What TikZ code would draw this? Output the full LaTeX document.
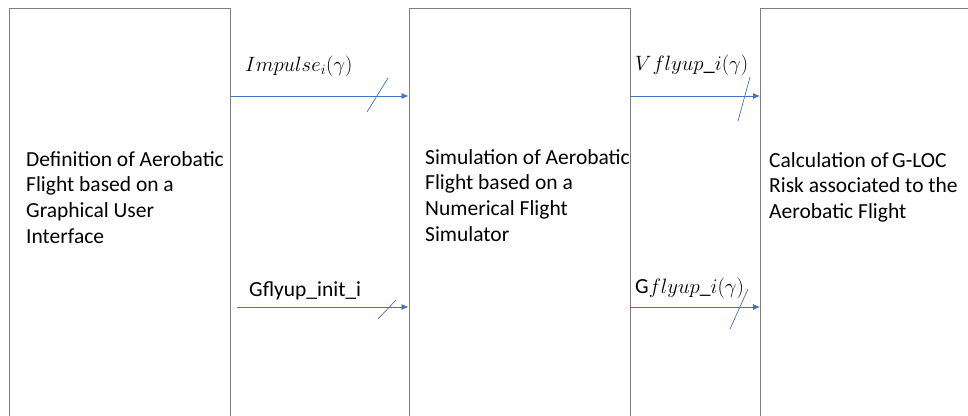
\documentclass[tikz,border=0pt]{standalone}
\usepackage{fontspec}
\setmainfont{Carlito}
\usetikzlibrary{arrows.meta}
\definecolor{arrblue}{HTML}{4472C4}
\definecolor{boxgray}{HTML}{7F7F7F}
\tikzset{
  blockbox/.style={draw=boxgray, line width=1pt, fill=white, rectangle, inner sep=0pt},
  boxtext/.style={anchor=north west, inner sep=0pt, align=left,
    font=\fontsize{21.5}{25.7}\selectfont},
  sigarrow/.style={draw=arrblue, line width=0.8pt, -{Latex[length=7pt,width=6pt]}},
  busmark/.style={draw=arrblue, line width=0.7pt},
  siglabel/.style={anchor=base west, inner sep=0pt, font=\fontsize{21.5}{24}\selectfont},
  mathlabel/.style={anchor=base west, inner sep=0pt, font=\fontsize{22.5}{24}\selectfont}
}
\begin{document}
\begin{tikzpicture}[x=1pt,y=-1pt]
\clip (0,0) rectangle (968,415);
\fill[white] (0,0) rectangle (968,415);
% blocks (extend below the picture edge)
\node[blockbox, anchor=north west, minimum width=221pt, minimum height=440pt] (def) at (9,8) {};
\node[blockbox, anchor=north west, minimum width=221pt, minimum height=440pt] (sim) at (408.5,8) {};
\node[blockbox, anchor=north west, minimum width=240pt, minimum height=440pt] (risk) at (760,8) {};
% block texts
\node[boxtext] (deft) at (26,151) {Definition of Aerobatic\\Flight based on a\\Graphical User\\Interface};
\node[boxtext] (simt) at (425,149) {Simulation of Aerobatic\\Flight based on a\\Numerical Flight\\Simulator};
\node[boxtext] (riskt) at (769,152) {Calculation of\,G-LOC\\Risk associated to the\\Aerobatic Flight};
% connectors
\coordinate (a1s) at (def.east |- 0,96);
\coordinate (a1e) at (sim.west |- 0,96);
\coordinate (a2s) at (237,307);
\coordinate (a2e) at (sim.west |- 0,307);
\coordinate (a3s) at (sim.east |- 0,96);
\coordinate (a3e) at (risk.west |- 0,96);
\coordinate (a4s) at (sim.east |- 0,307);
\coordinate (a4e) at (risk.west |- 0,307);
\draw[sigarrow] (a1s) -- (a1e);
\draw[sigarrow] (a2s) -- (a2e);
\draw[sigarrow] (a3s) -- (a3e);
\draw[sigarrow] (a4s) -- (a4e);
% bus slashes
\coordinate (s1a) at (367,112); \coordinate (s1b) at (388,78);
\coordinate (s2a) at (378,319); \coordinate (s2b) at (396,300);
\coordinate (s3a) at (738,121); \coordinate (s3b) at (750,77);
\coordinate (s4a) at (730,329); \coordinate (s4b) at (748,289);
\draw[busmark] (s1a) -- (s1b);
\draw[busmark] (s2a) -- (s2b);
\draw[busmark] (s3a) -- (s3b);
\draw[busmark] (s4a) -- (s4b);
% labels
\node[mathlabel] (l1) at (245,71) {$Impulse_i(\gamma)$};
\node[siglabel] (l2) at (249,296) {Gflyup\_init\_i};
\node[mathlabel] (l3) at (635,70) {$V{\kern1pt}flyup\_i(\gamma)$};
\node[mathlabel] (l4) at (635,293) {\fontsize{21.5}{24}\selectfont G$flyup\_i(\gamma)$};
\end{tikzpicture}
\end{document}
